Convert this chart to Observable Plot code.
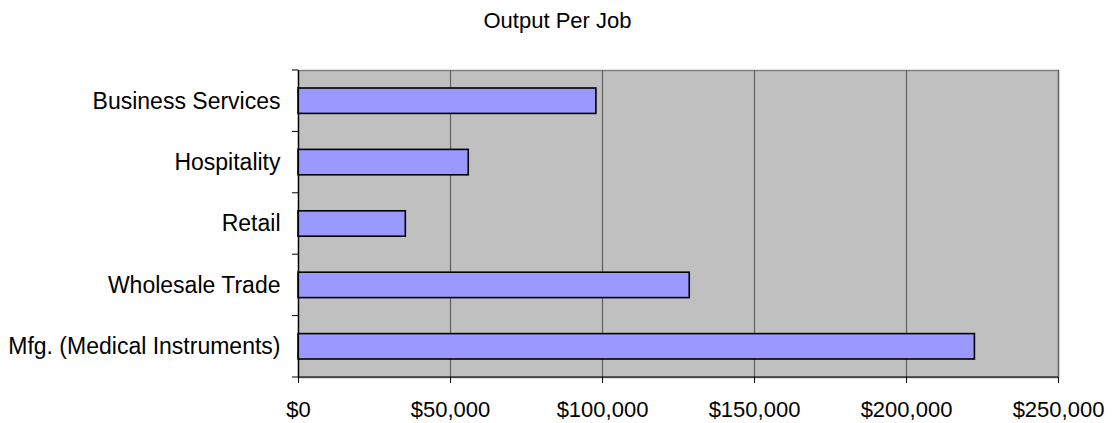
<!DOCTYPE html>
<html>
<head>
<meta charset="utf-8">
<script src="https://cdn.jsdelivr.net/npm/d3@7"></script>
<script src="https://cdn.jsdelivr.net/npm/@observablehq/plot@0.6"></script>
<style>
  html, body { margin: 0; padding: 0; background: #fff; }
  #wrap { position: relative; width: 1115px; height: 423px; font-family: "Liberation Sans", Arial, sans-serif; }
  #title { position: absolute; top: 8px; left: 0; width: 1115px; text-align: center; font-size: 22px; color: #000; }
</style>
</head>
<body>
<div id="wrap">
  <div id="title">Output Per Job</div>
</div>
<script>
const title = "Output Per Job";
const categories = ["Business Services", "Hospitality", "Retail", "Wholesale Trade", "Mfg. (Medical Instruments)"];
const values = [98000, 56000, 35300, 128700, 222500];
const xTicks = [0, 50000, 100000, 150000, 200000, 250000];

const data = categories.map((c, i) => ({category: c, value: values[i]}));

function yBoundaryTicks(index, scales, values, dims) {
  const {y} = scales;
  const {width, height, marginLeft, marginRight, marginBottom} = dims;
  const bottom = height - marginBottom;
  const ys = categories.map(c => y(c)).concat([bottom]);
  const g = d3.create("svg:g").attr("stroke", "black").attr("stroke-width", 1);
  g.selectAll("line.t").data(ys).join("line")
    .attr("class", "t")
    .attr("x1", marginLeft - 6).attr("x2", marginLeft)
    .attr("y1", d => d).attr("y2", d => d);
  g.append("line")
    .attr("x1", marginLeft).attr("x2", width - marginRight)
    .attr("y1", bottom).attr("y2", bottom);
  return g.node();
}

const chart = Plot.plot({
  width: 1115,
  height: 423,
  marginLeft: 298,
  marginRight: 57,
  marginTop: 70,
  marginBottom: 46,
  style: {fontFamily: "'Liberation Sans', Arial, sans-serif", fontSize: "22px", background: "transparent", color: "black", overflow: "visible"},
  x: {domain: [0, 250000], label: null},
  y: {domain: categories, padding: 0, round: false, label: null},
  marks: [
    Plot.frame({fill: "#c0c0c0", stroke: "#808080", strokeWidth: 1.5}),
    Plot.gridX(xTicks, {stroke: "#606060", strokeOpacity: 1, strokeWidth: 1.2}),
    Plot.barX(data, {x: "value", y: "category", fill: "#9999ff", stroke: "black", strokeWidth: 1.6, insetTop: 18, insetBottom: 18}),
    Plot.ruleX([0], {stroke: "black", strokeWidth: 1.2}),
    Plot.axisX(xTicks, {tickSize: 6, tickPadding: 18, tickFormat: d3.format("$,"), label: null, stroke: "black"}),
    Plot.axisY({tickSize: 0, tickPadding: 18, label: null, fontSize: 23}),
    yBoundaryTicks
  ]
});
chart.style.position = "absolute";
chart.style.left = "0px";
chart.style.top = "0px";
document.getElementById("wrap").appendChild(chart);
</script>
</body>
</html>
